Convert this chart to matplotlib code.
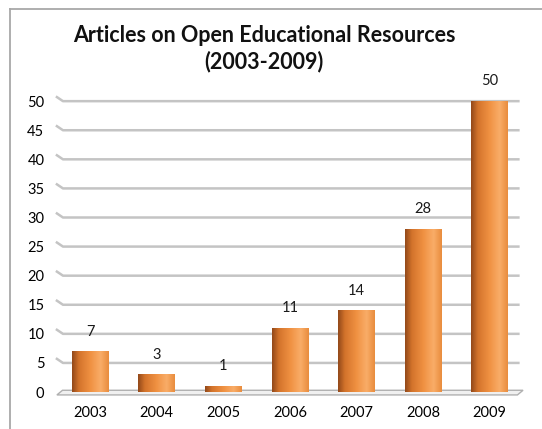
import matplotlib
matplotlib.use('Agg')
import matplotlib.pyplot as plt
import matplotlib.transforms as mtransforms
from matplotlib.colors import LinearSegmentedColormap
from matplotlib.lines import Line2D
from matplotlib.patches import Polygon
import numpy as np

years = ['2003', '2004', '2005', '2006', '2007', '2008', '2009']
articles = [7, 3, 1, 11, 14, 28, 50]
yticks = [0, 5, 10, 15, 20, 25, 30, 35, 40, 45, 50]

plt.rcParams['font.family'] = ['Lato', 'DejaVu Sans']

# cylinder-like shading across each bar
barmap = LinearSegmentedColormap.from_list('bar', [
	(0.0, '#93491a'), (0.18, '#d3732b'), (0.5, '#f09142'),
	(0.78, '#f9ad68'), (1.0, '#e98d3e')])
shade = np.linspace(0, 1, 64).reshape(1, -1)

fig = plt.figure(figsize=(5.42, 4.29), dpi=100)
ax = fig.add_axes([0.105, 0.0862, 0.86, 0.678])

xpos = np.arange(len(years))
width = 0.55
ax.set_xlim(-0.5, len(years) - 0.5)
ax.set_ylim(0, 50)

# back wall gridlines with a small slanted stub on the left
trans = mtransforms.blended_transform_factory(ax.transAxes, ax.transData)
for v in yticks[1:]:
	ax.add_line(Line2D([0.0, 0.013, 0.99], [v + 0.7, v, v], transform=trans,
					   color='#c4c4c4', lw=1.8, zorder=1, clip_on=False))

# floor of the plot
ax.add_patch(Polygon([(0.0, -0.5), (0.012, 0.3), (1.0, 0.3), (0.988, -0.5)],
					 transform=trans, facecolor='#f0f0f0', edgecolor='#b0b0b0',
					 lw=1.0, zorder=1, clip_on=False))

for x, val in zip(xpos, articles):
	ax.imshow(shade, cmap=barmap, aspect='auto', interpolation='bicubic',
			  extent=(x - width / 2, x + width / 2, 0, val), zorder=2)
	ax.text(x, val + 2.2, str(val), ha='center', va='bottom', fontsize=10.5,
			color='#1a1a1a', clip_on=False)

ax.set_xlim(-0.5, len(years) - 0.5)
ax.set_ylim(0, 50)
ax.set_xticks(xpos)
ax.set_xticklabels(years, fontsize=10.5)
ax.set_yticks(yticks)
ax.tick_params(axis='y', labelsize=10.5, length=0, pad=9)
ax.tick_params(axis='x', length=0, pad=10)
for s in ax.spines.values():
	s.set_visible(False)

fig.text(0.487, 0.887, 'Articles on Open Educational Resources\n(2003-2009)',
		 ha='center', va='center', fontsize=15.5, fontweight='bold',
		 linespacing=1.25, color='#111111')

# outer chart border (top and left edges)
fig.add_artist(Line2D([10 / 542, 1.0], [1 - 9 / 429, 1 - 9 / 429], transform=fig.transFigure,
					  color='#a8a8a8', lw=1.3))
fig.add_artist(Line2D([10 / 542, 10 / 542], [0.0, 1 - 9 / 429], transform=fig.transFigure,
					  color='#a8a8a8', lw=1.3))

fig.savefig('out.png', dpi=100)
